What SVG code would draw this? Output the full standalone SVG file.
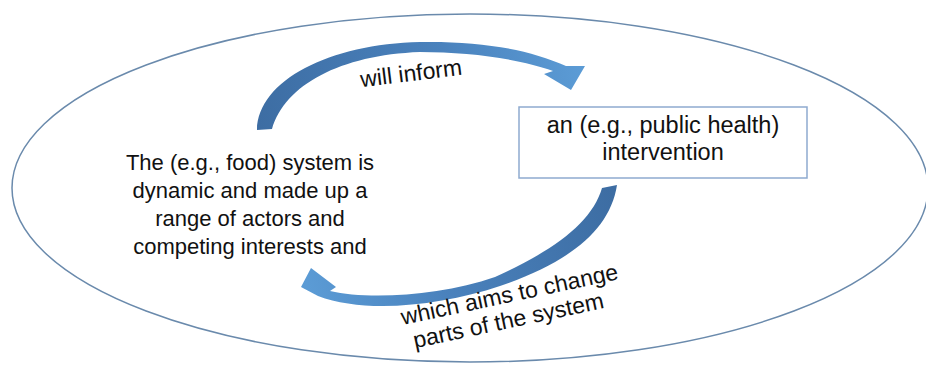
<svg xmlns="http://www.w3.org/2000/svg" width="926" height="365" viewBox="0 0 926 365">
<style>
text{font-family:"Liberation Sans",Arial,sans-serif;fill:#111;text-anchor:middle}
.t{font-size:22px}
.b{font-size:23.5px}
.lbl{font-size:23px}
</style>
<defs>
<linearGradient id="g1" gradientUnits="userSpaceOnUse" x1="260" y1="130" x2="580" y2="70">
<stop offset="0" stop-color="#3d6da3"/><stop offset="0.6" stop-color="#4a82bd"/><stop offset="1" stop-color="#5b9bd5"/>
</linearGradient>
<linearGradient id="g2" gradientUnits="userSpaceOnUse" x1="610" y1="186" x2="305" y2="275">
<stop offset="0" stop-color="#3d6da3"/><stop offset="0.6" stop-color="#4a82bd"/><stop offset="1" stop-color="#5b9bd5"/>
</linearGradient>
</defs>
<rect width="926" height="365" fill="#fff"/>
<g id="frame">
<ellipse cx="470" cy="188" rx="458" ry="174" fill="none" stroke="#6a8aac" stroke-width="1.5"/>
</g>
<g id="connectors">
<path d="M257,130 C258,80 330,44 420,42 C480,41 528,49 566,66 L585,66 L571,90 L544,74 L553,71 C520,59 470,52 420,52 C340,55 285,85 272,129 Z" fill="url(#g1)"/>
<path d="M617,185 C610,230 570,262 500,286 C440,306 365,314 318,296 L301,287 L311,268 L336,287 L330,291 C368,300 440,296 495,277 C555,250 592,222 602,188 Z" fill="url(#g2)"/>
<text class="lbl" transform="translate(412,81) rotate(-7)">will inform</text>
<text class="lbl" transform="translate(511,302) rotate(-12)">which aims to change</text>
<text class="lbl" transform="translate(510,328) rotate(-12)">parts of the system</text>
</g>
<g id="system">
<text class="t" x="250" y="170">The (e.g., food) system is</text>
<text class="t" x="250" y="198">dynamic and made up a</text>
<text class="t" x="250" y="226">range of actors and</text>
<text class="t" x="250" y="254">competing interests and</text>
</g>
<g id="intervention">
<rect x="519" y="107" width="288" height="71" fill="#fff" stroke="#8eaacf" stroke-width="1.5"/>
<text class="b" x="663" y="133">an (e.g., public health)</text>
<text class="b" x="663" y="160">intervention</text>
</g>
</svg>
